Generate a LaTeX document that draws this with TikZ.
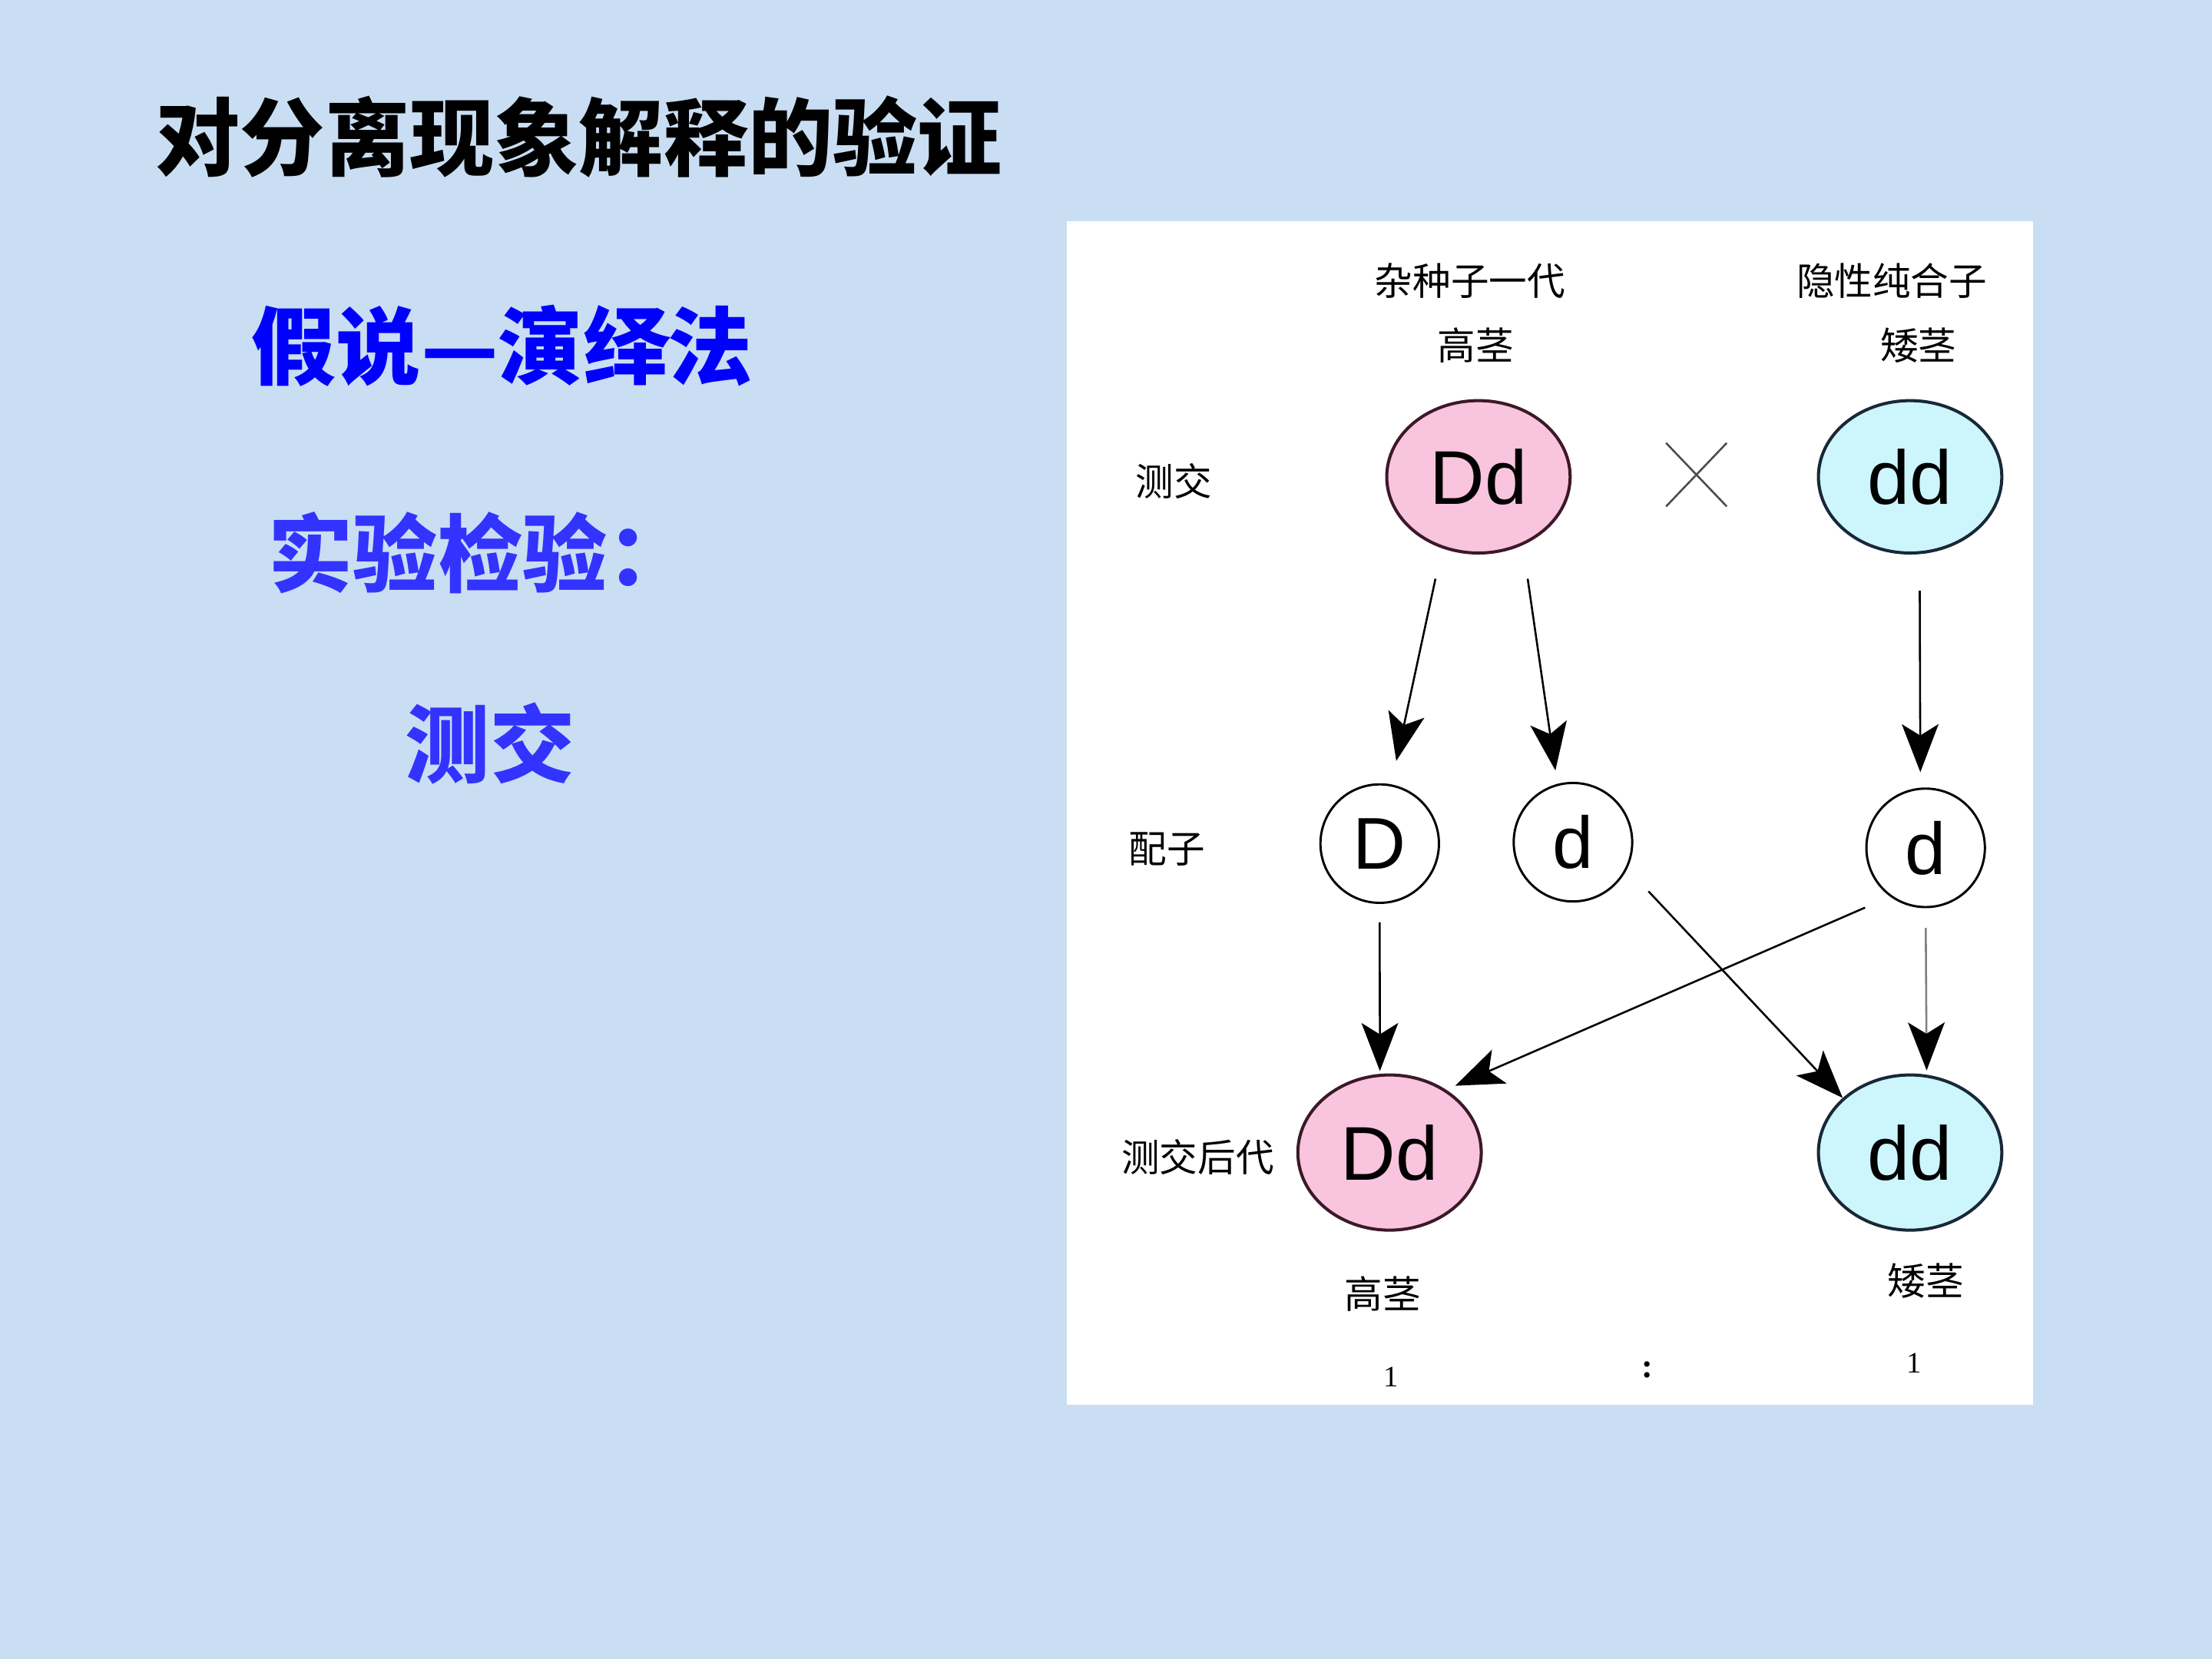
\documentclass[tikz,border=0pt]{standalone}
\usepackage{fontspec}
\setmainfont{Liberation Sans}
\newfontfamily\cjk{Noto Sans CJK SC}
\newfontfamily\serifnum{Liberation Serif}
\usetikzlibrary{arrows.meta,shapes.geometric}
\definecolor{bgblue}{RGB}{201,222,243}
\definecolor{pinkfill}{RGB}{249,196,222}
\definecolor{cyanfill}{RGB}{204,246,252}
\definecolor{pinkedge}{RGB}{60,25,40}
\definecolor{cyanedge}{RGB}{25,40,55}
\definecolor{blueA}{RGB}{0,0,255}
\definecolor{blueB}{RGB}{51,51,255}
\begin{document}
\begin{tikzpicture}[x=0.5pt,y=-0.5pt,
  bigtxt/.style={anchor=west,inner sep=0pt,font=\cjk\bfseries\fontsize{30}{36}\selectfont},
  smalltxt/.style={inner sep=0pt,font=\cjk\fontsize{13.5}{16}\selectfont},
  numtxt/.style={inner sep=0pt,font=\serifnum\fontsize{10.5}{12}\selectfont},
  pinkell/.style={ellipse,draw=pinkedge,line width=1.1pt,fill=pinkfill,inner sep=0pt,
     minimum width=65pt,minimum height=54pt,font=\fontsize{27}{30}\selectfont},
  cyanell/.style={ellipse,draw=cyanedge,line width=1.1pt,fill=cyanfill,inner sep=0pt,
     minimum width=65pt,minimum height=54pt,font=\fontsize{27}{30}\selectfont},
  gamete/.style={circle,draw=black,line width=0.8pt,fill=white,inner sep=0pt,
     minimum size=42pt,font=\fontsize{26}{30}\selectfont},
  arr/.style={line width=0.7pt,-{Stealth[length=17pt,width=13pt,inset=4pt,color=black]}},
]
\useasboundingbox (0,0) rectangle (1568,1176);
\fill[bgblue] (0,0) rectangle (1568,1176);

% left texts
\node[bigtxt,text=black] (title) at (110,97) {对分离现象解释的验证};
\node[bigtxt,text=blueA] (hyp) at (178,245) {假说—演绎法};
\node[bigtxt,text=blueB] (exp) at (190,392) {实验检验：};
\node[bigtxt,text=blueB] (tc) at (287,527) {测交};

% white panel
\fill[white] (756,157) rectangle (1441,996);

% labels
\node[smalltxt] (l1) at (1042,199) {杂种子一代};
\node[smalltxt] (l2) at (1046,245) {高茎};
\node[smalltxt] (l3) at (1341,199) {隐性纯合子};
\node[smalltxt] (l4) at (1360,245) {矮茎};
\node[smalltxt] (l5) at (832,341) {测交};
\node[smalltxt] (l6) at (827,602) {配子};
\node[smalltxt] (l7) at (849,820) {测交后代};
\node[smalltxt] (l8) at (980,917) {高茎};
\node[smalltxt] (l9) at (1365,908) {矮茎};
\node[numtxt] (n1) at (986,976) {1};
\node[numtxt,font=\serifnum\bfseries\fontsize{12}{14}\selectfont] (nc) at (1168,971) {:};
\node[numtxt] (n2) at (1357,966) {1};

% parents
\node[pinkell] (pDd) at (1048,338) {Dd};
\node[cyanell] (pdd) at (1354,338) {dd};
\draw[line width=0.7pt,black!70] (1181,314) -- (1224,359);
\draw[line width=0.7pt,black!70] (1224,314) -- (1181,359);

% gametes
\node[gamete] (gD) at (978,598) {D};
\node[gamete] (gd) at (1115,597) {d};
\node[gamete] (gd2) at (1365,601) {d};

% offspring
\node[pinkell,minimum height=55pt] (oDd) at (985,817) {Dd};
\node[cyanell,minimum height=55pt] (odd) at (1354,817) {dd};

% arrows
\draw[arr,shorten <=11pt,shorten >=8.5pt] (pDd.243) -- (gD.79);
\draw[arr,shorten <=12pt,shorten >=4.8pt] (pDd.303) -- (gd.105);
\draw[arr,shorten <=13pt,shorten >=5.5pt] (pdd.277.4) -- (gd2.95.5);
\draw[arr,shorten <=6.5pt,shorten >=1pt] (gD.south) -- (oDd.97.3);
\draw[arr,shorten <=11pt] (gd.334.7) -- (odd.141.8);
\draw[arr,shorten <=9.7pt,shorten >=3.5pt] (gd2.234.8) -- (oDd.48.9);
\draw[arr,draw=black!50,shorten <=7pt,shorten >=1.5pt] (gd2.270) -- (odd.78.5);
\end{tikzpicture}
\end{document}
